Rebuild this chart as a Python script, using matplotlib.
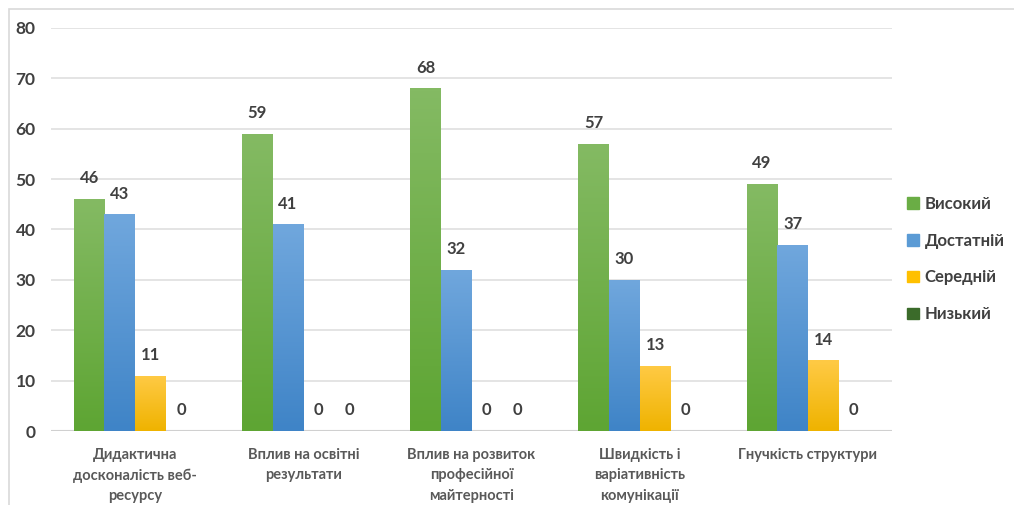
import matplotlib.pyplot as plt
import matplotlib.colors as mcolors
from matplotlib.patches import Rectangle
import numpy as np

categories = ["Дидактична\nдосконалість веб-\nресурсу", "Вплив на освітні\nрезультати",
              "Вплив на розвиток\nпрофесійної\nмайтерності", "Швидкість і\nваріативність\nкомунікації",
              "Гнучкість структури"]
series = ["Високий", "Достатній", "Середній", "Низький"]
high = [46, 59, 68, 57, 49]
enough = [43, 41, 32, 30, 37]
medium = [11, 0, 0, 13, 14]
low = [0, 0, 0, 0, 0]
yticks = [0, 10, 20, 30, 40, 50, 60, 70, 80]

values = [high, enough, medium, low]
# (top colour, bottom colour) for the gradient fill
grads = [("#84ba63", "#5ea533"), ("#70a7dd", "#3f84c7"),
         ("#ffca45", "#efb300"), ("#4c7f35", "#37652a")]
legend_colors = ["#6aad45", "#5b9bd5", "#ffc000", "#3b6b2a"]

plt.rcParams['font.family'] = ['Lato', 'DejaVu Sans']
txt = "#404040"

fig = plt.figure(figsize=(10.14, 5.05), dpi=100)
fig.patches.append(Rectangle((9 / 1014, -0.1), 1.2, 1.1 - 9 / 505,
                             transform=fig.transFigure, fill=False,
                             edgecolor="#d9d9d9", linewidth=1.2))
ax = fig.add_axes([51 / 1014, 1 - 431 / 505, (892 - 51) / 1014, (431 - 28) / 505])

x = np.arange(len(categories))
w = 0.182
for i, vals in enumerate(values):
    pos = x + (i - 1.5) * w
    bars = ax.bar(pos, vals, w, color=legend_colors[i], zorder=2, label=series[i])
    cmap = mcolors.LinearSegmentedColormap.from_list("g%d" % i, [grads[i][1], grads[i][0]])
    for b, v in zip(bars, vals):
        if v > 0:
            b.set_facecolor("none")
            b.set_edgecolor("none")
            grad = np.linspace(0, 1, 100).reshape(-1, 1)
            im = ax.imshow(grad, cmap=cmap, origin="lower", aspect="auto", zorder=2,
                           extent=[b.get_x(), b.get_x() + b.get_width(), 0, v])
            im.set_clip_path(b)
        ax.annotate(str(v), (b.get_x() + b.get_width() / 2, v), xytext=(0, 15),
                    textcoords="offset points", ha="center", va="center",
                    fontsize=12, fontweight="bold", color=txt)

ax.set_xlim(-0.5, len(categories) - 0.5)
ax.set_ylim(0, 80)
ax.set_yticks(yticks)
ax.set_xticks(x)
ax.set_xticklabels(categories, fontsize=10.5, fontweight="bold", color="#595959",
                   linespacing=1.6, va="top")
ax.tick_params(axis="y", length=0, pad=11, labelsize=12.5, labelcolor=txt)
for lbl in ax.get_yticklabels():
    lbl.set_fontweight("bold")
ax.tick_params(axis="x", length=0, pad=12)
ax.grid(axis="y", color="#dcdcdc", linewidth=1.1, zorder=0)
ax.set_axisbelow(True)
for s in ax.spines.values():
    s.set_visible(False)
ax.axhline(0, color="#d0d0d0", linewidth=1.5, zorder=1)

handles = [Rectangle((0, 0), 1, 1, color=c) for c in legend_colors]
leg = fig.legend(handles, series, loc="center left", bbox_to_anchor=(892 / 1014, 1 - 259 / 505),
                 frameon=False, handlelength=0.7, handleheight=0.7, handletextpad=0.35,
                 labelspacing=1.25, prop={"size": 12, "weight": "bold"})
for t in leg.get_texts():
    t.set_color(txt)

fig.savefig("out.png", dpi=100)
